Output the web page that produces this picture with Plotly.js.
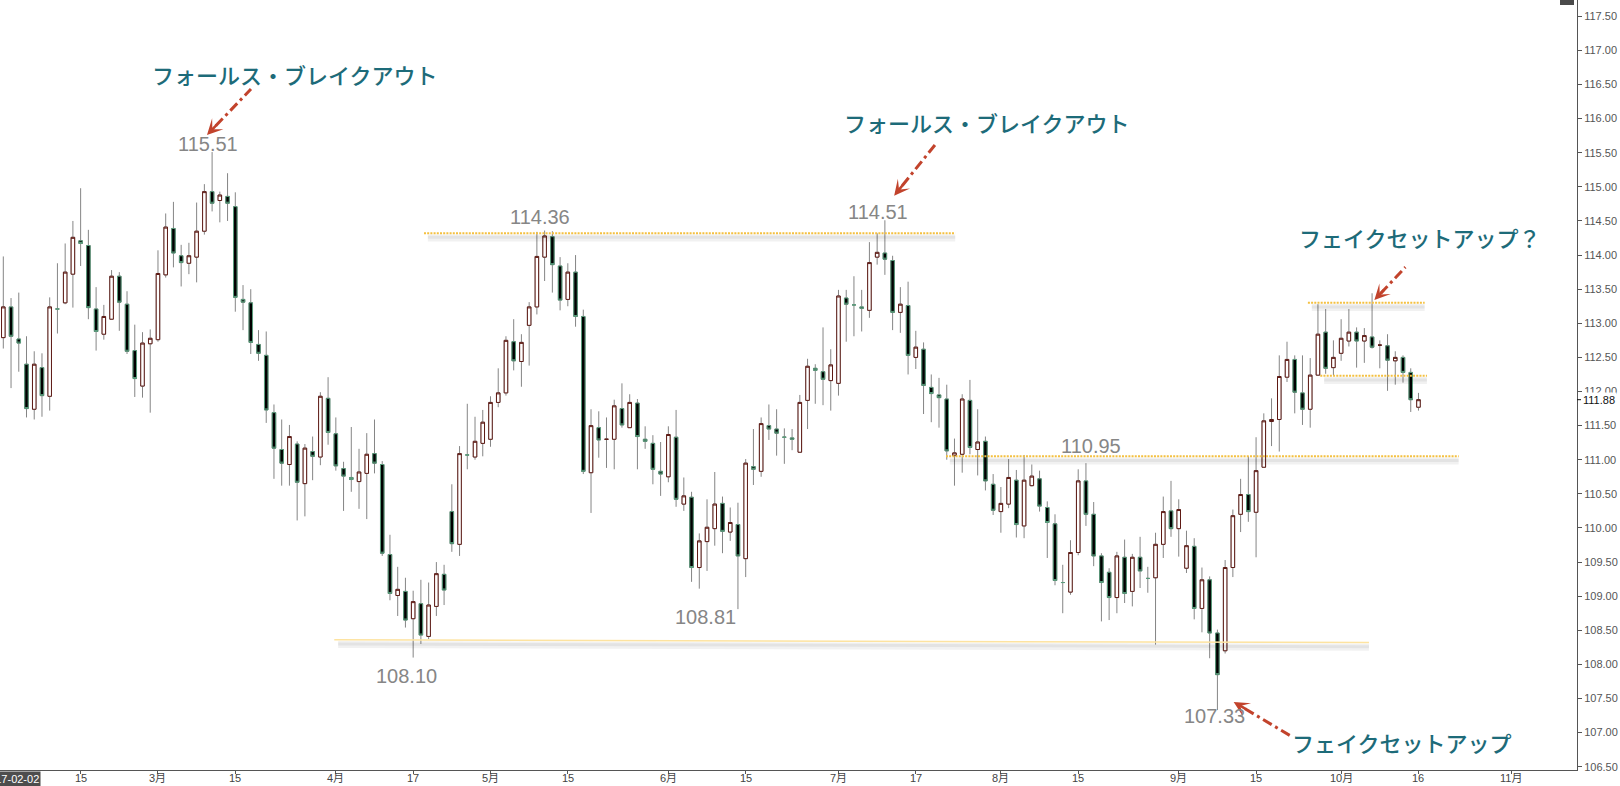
<!DOCTYPE html>
<html><head><meta charset="utf-8">
<script src="https://cdn.plot.ly/plotly-3.0.1.min.js"></script>
<style>html,body{margin:0;padding:0;background:#fff}#chart{width:1620px;height:786px}</style>
</head><body><div id="chart"></div>
<script>
// ---- calendar (weekday trading days) ----
const firstDay = '2017-02-01';
const calendarEnd = '2017-11-30';
function tradingDays(start, end) {
  const out = []; const d = new Date(start + 'T00:00:00Z'); const e = new Date(end + 'T00:00:00Z');
  while (d <= e) { const w = d.getUTCDay(); if (w !== 0 && w !== 6) out.push(d.toISOString().slice(0, 10)); d.setUTCDate(d.getUTCDate() + 1); }
  return out;
}
const calendar = tradingDays(firstDay, calendarEnd);

// ---- USD/JPY daily OHLC, 2017-02-01 .. 2017-10-16 ----
const open = [112.79,113.24,112.77,112.40,111.74,112.35,111.93,113.21,113.30,113.72,
114.21,114.14,113.21,112.84,113.06,113.69,113.28,112.60,112.08,112.70,
112.76,113.71,114.39,113.99,113.88,113.97,114.35,114.93,114.80,114.86,
114.71,113.35,113.30,112.69,112.53,111.69,111.15,110.93,111.23,110.65,
111.12,111.04,111.90,111.38,110.87,110.74,110.68,110.80,111.09,110.93,
109.61,109.01,109.07,108.67,108.89,108.41,108.85,109.32,110.24,109.76,
111.07,111.04,111.24,111.30,111.84,111.98,112.73,112.44,112.97,113.24,
113.97,114.27,113.84,113.35,113.75,113.10,110.81,111.47,111.30,111.30,
111.75,111.47,111.83,111.30,111.24,110.83,110.75,111.33,110.35,110.45,
109.42,109.80,109.99,110.36,109.94,110.05,109.55,110.90,110.83,111.50,
111.45,111.33,111.32,111.11,111.87,112.34,112.29,112.16,112.12,113.37,
113.27,113.24,113.19,113.97,114.03,113.92,113.16,113.26,112.50,112.62,
112.06,111.95,111.89,111.06,111.08,111.87,111.15,111.27,110.64,110.24,
110.35,110.70,110.03,110.62,110.72,110.30,110.06,109.20,109.06,109.64,
110.69,110.20,109.59,109.35,108.98,109.57,109.07,109.57,109.26,109.27,
109.76,110.25,109.99,109.41,109.73,108.82,109.24,108.46,108.20,109.42,
110.20,110.49,110.23,110.89,111.56,111.59,112.21,112.47,111.98,111.74,
112.24,112.87,112.35,112.56,112.74,112.87,112.74,112.80,112.68,112.67,
112.45,112.50,112.28,111.77];
const high = [113.98,113.37,113.45,112.81,112.59,112.56,113.38,113.88,114.17,114.50,
114.98,114.37,113.53,113.27,113.78,113.75,113.47,112.98,112.87,112.91,
114.07,114.61,114.78,114.15,114.18,114.77,115.04,115.51,114.93,115.20,
114.92,113.56,113.50,112.90,112.88,111.81,111.59,111.51,111.27,111.23,
111.34,111.99,112.21,111.62,110.97,111.48,111.16,111.39,111.59,110.98,
109.90,109.43,109.27,109.08,109.24,109.20,109.50,109.46,110.64,111.20,
111.82,111.63,111.73,111.93,112.34,112.81,113.06,112.84,113.31,114.34,
114.36,114.35,113.97,113.88,114.00,113.20,111.74,111.71,111.62,111.88,
112.12,111.96,111.89,111.49,111.36,111.26,111.49,111.73,110.74,110.53,
109.92,110.42,110.82,110.46,110.30,110.37,111.01,111.45,111.62,111.81,
111.74,111.46,111.45,111.95,112.48,112.40,112.94,112.62,113.49,113.49,
113.69,113.49,114.19,114.32,114.51,113.99,113.53,113.61,112.89,112.72,
112.25,112.20,112.10,111.31,111.96,112.17,111.74,111.34,110.79,110.60,
111.01,110.85,111.07,110.93,110.84,110.39,110.20,109.46,109.82,110.86,
110.95,110.38,109.63,109.41,109.65,109.83,109.62,109.87,109.43,109.93,
110.46,110.69,110.42,109.96,109.85,109.42,109.29,108.51,109.53,110.27,
110.72,111.05,111.33,111.68,111.90,112.53,112.73,112.53,112.53,112.49,
113.28,113.21,112.75,113.06,113.21,112.94,112.93,113.44,112.75,112.84,
112.59,112.53,112.34,111.98];
const low = [112.63,112.05,112.29,111.62,111.59,111.63,111.72,112.85,113.28,113.23,
113.84,113.06,112.60,112.76,113.05,112.89,112.55,111.92,111.91,111.69,
112.73,113.67,113.82,113.54,113.72,113.60,114.30,114.64,114.48,114.50,
113.17,112.90,112.55,112.45,111.54,110.72,110.62,110.62,110.11,110.17,
110.70,110.92,111.22,110.84,110.25,110.53,110.28,110.13,110.80,109.59,
108.94,108.71,108.54,108.10,108.30,108.37,108.71,108.87,109.65,109.59,
110.86,111.00,111.05,111.19,111.77,111.94,112.31,112.07,112.38,113.13,
113.62,113.45,113.19,113.25,112.95,110.79,110.22,111.03,110.88,110.86,
111.47,111.47,110.86,111.16,110.64,110.47,110.67,110.31,110.25,109.21,
109.11,109.37,109.74,109.63,109.81,108.81,109.28,110.63,110.75,111.29,
111.06,110.94,111.14,111.11,111.45,111.82,111.80,111.72,111.94,112.73,
112.81,112.88,113.08,113.86,113.71,112.90,112.86,112.25,112.33,111.67,
111.55,111.47,111.00,110.62,110.81,111.08,110.77,110.55,110.19,109.93,
110.29,109.86,109.85,110.61,110.24,109.56,109.16,108.75,109.02,109.60,
110.03,109.44,108.63,108.65,108.75,108.90,108.85,109.12,109.05,108.29,
109.56,109.87,109.58,109.34,108.66,108.47,108.09,107.33,108.16,109.28,
109.94,110.09,109.57,110.89,111.20,111.12,112.14,111.68,111.51,111.47,
112.23,112.26,112.24,112.45,112.66,112.35,112.42,112.63,112.34,112.01,
112.10,112.13,111.70,111.72];
const close = [113.24,112.81,112.71,111.75,112.40,111.94,113.24,113.21,113.75,114.26,
114.17,113.23,112.88,113.10,113.69,113.31,112.59,112.19,112.71,112.78,
113.73,114.41,114.03,113.89,113.99,114.35,114.93,114.76,114.88,114.76,
113.38,113.31,112.72,112.56,111.73,111.17,110.95,111.34,110.67,111.17,
111.05,111.93,111.40,110.91,110.76,110.71,110.82,111.08,110.95,109.63,
109.04,109.10,108.65,108.92,108.43,108.87,109.33,109.09,109.77,111.09,
111.07,111.27,111.55,111.84,111.98,112.75,112.45,112.72,113.24,113.98,
114.28,113.86,113.34,113.75,113.10,110.83,111.50,111.29,111.30,111.79,
111.51,111.84,111.34,111.27,110.86,110.79,111.37,110.42,110.47,109.42,
109.81,110.01,110.35,109.95,110.08,109.59,110.95,110.86,111.53,111.45,
111.39,111.33,111.30,111.84,112.37,112.31,112.18,112.39,113.40,113.28,
113.27,113.22,113.89,114.04,113.94,113.16,113.28,112.53,112.65,112.09,
111.97,111.91,111.13,111.10,111.89,111.18,111.26,110.69,110.26,110.36,
110.74,110.05,110.70,110.76,110.32,110.08,109.23,109.20,109.64,110.69,
110.20,109.59,109.20,108.98,109.59,109.04,109.57,109.37,109.26,109.76,
110.24,109.99,110.27,109.74,108.82,109.24,108.46,107.85,109.42,110.18,
110.49,110.24,110.84,111.57,111.59,112.22,112.47,111.99,111.74,112.24,
112.84,112.34,112.50,112.78,112.87,112.74,112.82,112.65,112.68,112.46,
112.50,112.28,111.88,111.88];
const dates = calendar.slice(0, open.length);
const lastPrice = close[close.length - 1];

// ---- axis tick labels ----
const tickDates  = ['2017-02-15','2017-03-01','2017-03-15','2017-04-03','2017-04-17','2017-05-01','2017-05-15','2017-06-01','2017-06-15','2017-07-03','2017-07-17','2017-08-01','2017-08-15','2017-09-01','2017-09-15','2017-10-02','2017-10-16','2017-11-01'];
const tickLabels = ['15','3月','15','4月','17','5月','15','6月','15','7月','17','8月','15','9月','15','10月','16','11月'];

// ---- annotated price levels ----
const labelDates  = ['2017-03-10','2017-05-10','2017-07-11','2017-08-16','2017-04-17','2017-06-14','2017-09-08'];
const labelValues = [115.51, 114.36, 114.51, 110.95, 108.10, 108.81, 107.33];
const callouts = ['フォールス・ブレイクアウト','フォールス・ブレイクアウト','フェイクセットアップ？','フェイクセットアップ'];
const levelPrices = [114.32, 111.05, 113.30, 112.23];   // dotted levels
const floorLine = [108.36, 108.32];                       // sloped support line

// ================= drawing =================
const idx = d => calendar.indexOf(d);
const xs = dates.map(idx);
const bodyHi = open.map((o, i) => Math.max(o, close[i]));
const bodyLo = open.map((o, i) => Math.min(o, close[i]));

const wick = {
  type: 'candlestick', x: xs, open: open, high: high, low: low, close: close,
  increasing: {line: {color: '#858585', width: 1}, fillcolor: '#858585'},
  decreasing: {line: {color: '#858585', width: 1}, fillcolor: '#858585'},
  whiskerwidth: 0, hoverinfo: 'skip', showlegend: false
};
const body = {
  type: 'candlestick', x: xs, open: open, high: bodyHi, low: bodyLo, close: close,
  increasing: {line: {color: '#5e1a14', width: 1}, fillcolor: '#ffffff'},
  decreasing: {line: {color: '#5a9c7c', width: 1}, fillcolor: '#000000'},
  whiskerwidth: 0, hoverinfo: 'skip', showlegend: false
};

const gold = '#f4c040', shadow = 'rgba(0,0,0,0.055)', brick = '#c2432c', teal = '#1d6b79';
const axisFont = 'Liberation Sans Narrow, Liberation Sans, Arial, Noto Sans CJK JP, sans-serif';
const shapes = [];
function level(x0, x1, y0, y1, dotted) {
  shapes.push({type: 'line', xref: 'x', yref: 'y', x0: x0 + 0.5, x1: x1, y0: y0 - 0.07, y1: y1 - 0.07, line: {color: shadow, width: 7}});
  shapes.push({type: 'line', xref: 'x', yref: 'y', x0: x0 + 0.5, x1: x1, y0: y0 - 0.06, y1: y1 - 0.06, line: {color: shadow, width: 3}});
  shapes.push({type: 'line', xref: 'x', yref: 'y', x0: x0, x1: x1, y0: y0, y1: y1,
    line: {color: dotted ? gold : '#fde3a0', width: dotted ? 2 : 1.5, dash: dotted ? '2px,1.2px' : 'solid'}});
}
level(54.4, 123.1, levelPrices[0], levelPrices[0], true);
level(121.9, 188.2, levelPrices[1], levelPrices[1], true);
level(168.7, 183.8, levelPrices[2], levelPrices[2], true);
level(170.3, 184.1, levelPrices[3], levelPrices[3], true);
level(42.8, 176.6, floorLine[0], floorLine[1], false);

// dash-dot arrows: tip (x index, price) and tail offset in px
const arrows = [
  {x: 26.34, y: 115.76, dx: 44, dy: -46},
  {x: 115.2, y: 114.87, dx: 41, dy: -51},
  {x: 177.3, y: 113.34, dx: 31, dy: -33},
  {x: 159.1, y: 107.45, dx: 57, dy: 34}
];
const annotations = [];
arrows.forEach(a => {
  shapes.push({type: 'line', xref: 'x', yref: 'y', xsizemode: 'pixel', ysizemode: 'pixel',
    xanchor: a.x, yanchor: a.y, x0: a.dx * 0.2, x1: a.dx, y0: -a.dy * 0.2, y1: -a.dy,
    line: {color: brick, width: 3, dash: '10px,4px,3px,4px'}});
  const L = Math.hypot(a.dx, a.dy), k = 16 / L;
  annotations.push({x: a.x, y: a.y, xref: 'x', yref: 'y', text: '', showarrow: true,
    ax: a.dx * k, ay: a.dy * k, arrowhead: 3, arrowsize: 1, arrowwidth: 2.6, arrowcolor: brick, standoff: 0});
});

// price labels
const labelShift = [[-4, 8], [-5, 14], [-7, 8], [5, 17], [-7, -18], [-32, -8], [-3, -6]];
labelDates.forEach((d, i) => {
  annotations.push({x: idx(d), y: labelValues[i], xref: 'x', yref: 'y', text: labelValues[i].toFixed(2),
    showarrow: false, xshift: labelShift[i][0], yshift: labelShift[i][1],
    font: {family: 'Liberation Sans, Arial, sans-serif', size: 20, color: '#868686'}});
});

// callout texts
const calloutPos = [[37.7, 116.65], [127.2, 115.95], [183.2, 114.26], [180.9, 106.86]];
callouts.forEach((t, i) => {
  annotations.push({x: calloutPos[i][0], y: calloutPos[i][1], xref: 'x', yref: 'y', text: t, showarrow: false,
    font: {family: 'Noto Sans CJK JP, sans-serif', size: 22, weight: 500, color: teal}});
});

// x tick labels, tucked right under the axis line
tickDates.forEach((d, i) => {
  annotations.push({x: idx(d), xref: 'x', yref: 'paper', y: 0, yanchor: 'top', yshift: -1, text: tickLabels[i],
    showarrow: false, borderpad: 0, font: {family: axisFont, size: 11, color: '#444'}});
});

// last price marker on the axis
annotations.push({xref: 'paper', x: 1, y: lastPrice, yref: 'y', xanchor: 'left', xshift: 4, text: lastPrice.toFixed(2),
  showarrow: false, bgcolor: '#ffffff', borderpad: 1, font: {family: 'Liberation Sans, Arial, sans-serif', size: 11, color: '#111'}});
shapes.push({type: 'line', xref: 'paper', xsizemode: 'pixel', xanchor: 1, x0: 0, x1: 4, yref: 'y', y0: lastPrice, y1: lastPrice, line: {color: '#111', width: 1}});
// crosshair labels (cut off at edges)
annotations.push({xref: 'paper', x: 1, y: 117.80, yref: 'y', xanchor: 'left', xshift: 0, text: '117.79', showarrow: false,
  bgcolor: '#4a4a4a', borderpad: 2, font: {family: 'Liberation Sans, Arial, sans-serif', size: 11, color: '#fff'}});
shapes.push({type: 'rect', xref: 'paper', yref: 'paper', x0: 1560 / 1577, x1: 1574 / 1577, y0: 1 - 5 / 770, y1: 1, fillcolor: '#4a4a4a', line: {width: 0}});
annotations.push({x: idx('2017-02-02'), xref: 'x', yref: 'paper', y: 0, yanchor: 'top', yshift: -1, text: '2017-02-02', showarrow: false,
  bgcolor: '#4d4d4d', borderpad: 1, font: {family: axisFont, size: 11, color: '#fff'}});

const layout = {
  width: 1620, height: 786,
  margin: {l: 0, r: 43, t: 0, b: 16},
  paper_bgcolor: '#fff', plot_bgcolor: '#fff',
  showlegend: false, boxgap: 0.35,
  font: {family: 'Liberation Sans, Arial, Noto Sans CJK JP, sans-serif'},
  xaxis: {
    range: [-0.427, 203.5], rangeslider: {visible: false},
    tickmode: 'array', tickvals: tickDates.map(idx), ticktext: tickLabels, showticklabels: false,
    showline: true, linecolor: '#555', linewidth: 1, ticks: 'outside', ticklen: 3, tickcolor: '#555',
    showgrid: false, zeroline: false, fixedrange: true
  },
  yaxis: {
    side: 'right', range: [106.452, 117.739], tick0: 106.5, dtick: 0.5, tickformat: '.2f',
    showline: true, linecolor: '#555', linewidth: 1, ticks: 'outside', ticklen: 4, tickcolor: '#555',
    tickfont: {size: 11, color: '#555', family: 'Liberation Sans, Arial, sans-serif'},
    showgrid: false, zeroline: false, fixedrange: true
  },
  shapes: shapes, annotations: annotations
};
Plotly.newPlot('chart', [wick, body], layout, {displayModeBar: false, staticPlot: true});
</script></body></html>
